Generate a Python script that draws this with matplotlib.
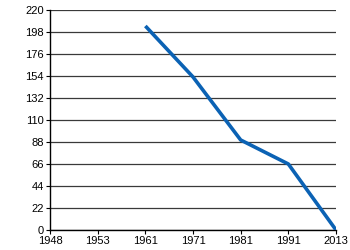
import numpy as np
import matplotlib
matplotlib.use("Agg")
import matplotlib.pyplot as plt

plt.rcParams['font.family'] = ['Liberation Sans', 'DejaVu Sans']

years = ["1948", "1953", "1961", "1971", "1981", "1991", "2013"]
data_years = ["1961", "1971", "1981", "1991", "2013"]
values = [204, 153, 90, 66, 0]
yticks = [0, 22, 44, 66, 88, 110, 132, 154, 176, 198, 220]

fig = plt.figure(figsize=(3.5, 2.5), dpi=100)
ax = fig.add_axes([0.143, 0.08, 0.817, 0.88])

xpos = [years.index(y) for y in data_years]
ax.plot(xpos, values, color='#0b62b4', linewidth=2.6, solid_capstyle='butt', zorder=3)

ax.set_xlim(0, len(years) - 1)
ax.set_ylim(0, 220)
ax.set_xticks(range(len(years)))
ax.set_xticklabels(years)
ax.set_yticks(yticks)
ax.yaxis.grid(True, color='#3a3a3a', linewidth=0.9)
ax.set_axisbelow(True)

for s in ['top', 'right']:
    ax.spines[s].set_visible(False)
for s in ['left', 'bottom']:
    ax.spines[s].set_linewidth(1.0)
    ax.spines[s].set_color('black')

ax.tick_params(axis='both', labelsize=8, length=3, width=0.8, pad=1.5, colors='black')
ax.tick_params(axis='x', pad=1)

fig.savefig("out.png", dpi=100)
